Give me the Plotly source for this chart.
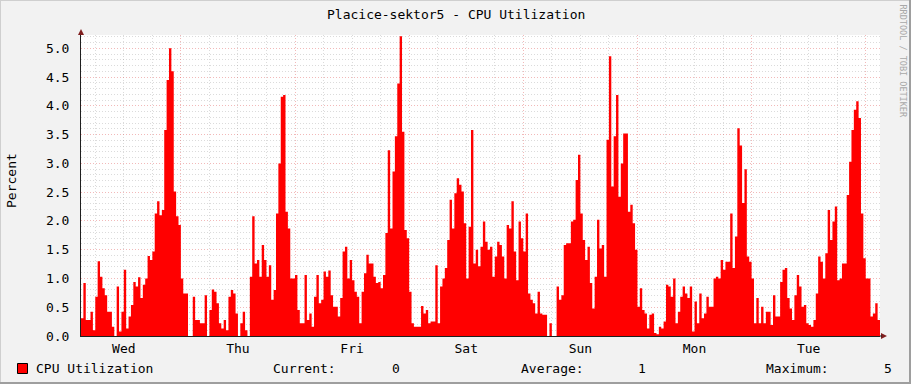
import plotly.graph_objects as go
import pandas as pd

# ---------------- data ----------------
TITLE = "Placice-sektor5 - CPU Utilization"
Y_LABEL = "Percent"
SERIES_NAME = "CPU Utilization"
WATERMARK = "RRDTOOL / TOBI OETIKER"
START = "2024-01-03 03:00"      # a Wednesday
STEP = "30min"
Y_MAX = 5.231

cpu = [
    0.31, 0.92, 0.28, 0.28, 0.42, 0.10, 0.68, 1.30, 1.03, 0.83,
    0.71, 0.42, 0.42, 0.16, 0.00, 0.86, 0.08, 0.42, 1.15, 0.13,
    0.34, 0.54, 0.94, 0.86, 1.02, 0.66, 0.89, 1.00, 1.39, 1.32,
    1.47, 2.13, 2.34, 2.10, 2.19, 3.58, 4.45, 5.00, 4.60, 2.51,
    2.08, 1.93, 1.00, 0.74, 0.74, 0.00, 0.00, 0.68, 0.28, 0.28,
    0.22, 0.22, 0.71, 0.00, 0.45, 0.81, 0.77, 0.57, 0.22, 0.13,
    0.28, 0.10, 0.68, 0.80, 0.74, 0.39, 0.00, 0.22, 0.42, 0.10,
    0.00, 1.03, 2.08, 1.26, 1.32, 1.03, 1.58, 1.32, 1.03, 1.23,
    0.63, 0.80, 2.13, 3.00, 4.16, 4.19, 2.16, 1.87, 1.00, 1.00,
    1.06, 0.45, 0.22, 0.22, 1.06, 0.28, 0.39, 0.16, 0.68, 1.06,
    0.57, 0.63, 1.12, 1.03, 1.14, 0.71, 0.51, 0.51, 0.34, 0.66,
    1.47, 1.55, 1.00, 1.32, 0.97, 0.77, 0.68, 0.22, 0.77, 1.09,
    1.41, 1.26, 1.26, 1.03, 0.92, 0.94,
    0.83, 1.06, 1.79, 3.23,
    1.87, 2.86, 3.47, 4.39, 5.21, 3.55, 1.84, 1.70, 0.77, 0.22,
    0.16, 0.16, 0.16, 0.52, 0.39, 0.45, 0.22, 0.25, 0.25, 1.23,
    0.22, 0.86, 1.00, 1.18, 1.67, 2.37, 1.87, 2.48, 2.74, 2.63,
    2.51, 1.96, 1.00, 1.90, 3.58, 1.26, 1.50, 1.21, 1.55, 1.99,
    1.64, 1.50, 1.55, 1.03, 1.38, 1.64, 1.58, 1.38, 1.00, 1.93,
    1.87, 2.34, 1.47, 0.97, 1.99, 1.70, 1.47, 2.13, 0.74, 0.63,
    0.57, 0.39, 0.77, 0.39, 0.37, 0.37, 0.00, 0.22, 0.00, 0.00,
    0.86, 0.63, 0.71, 1.58, 1.61, 1.61, 1.99, 2.02, 2.71, 3.15,
    2.13, 1.67, 1.32, 1.55, 0.92, 0.48, 1.03, 2.02, 1.52, 1.58,
    1.03, 3.41, 4.86, 2.60, 3.47, 4.19, 2.42, 3.00, 3.52, 3.52,
    2.16, 2.28, 1.96, 1.50, 0.51, 0.83, 0.45, 0.39, 0.13, 0.37,
    0.39, 0.05, 0.03, 0.16, 0.13, 0.25, 0.89, 0.86,
    0.68, 1.00,
    0.22, 0.42, 0.68, 0.86, 0.74, 0.66, 0.86, 0.08, 0.60, 0.22,
    0.74, 0.31, 0.39, 0.68, 0.51, 0.51, 1.00, 1.03, 1.00, 1.32,
    1.15, 1.29, 1.29, 2.13, 1.18, 1.73, 3.61, 3.31, 2.31, 2.90,
    1.38, 1.29, 1.00, 0.22, 0.66, 0.22, 0.51, 0.22, 0.42, 0.42,
    0.19, 0.71, 0.34, 0.34, 0.94, 1.15, 1.18, 0.66, 0.48, 0.28,
    0.71, 1.06, 0.86, 0.51, 0.54, 0.22, 0.19, 0.16, 0.28, 0.74,
    1.38, 1.29, 1.00, 1.44, 2.19, 1.67, 1.99, 2.25, 0.97, 1.00,
    1.26, 1.26, 2.45, 3.03, 3.58, 3.93, 4.08, 3.79, 2.13, 1.35,
    1.00, 1.00, 0.34, 0.39, 0.57, 0.28,
]

# ---------------- layout constants ----------------
W, H = 911, 384
L, R, T, B = 81, 31, 35, 48
PW, PH = W - L - R, H - T - B
FONT = "DejaVu Sans Mono"
RED = "#FF0000"
ARROW = "#801F1F"
AXIS = "#1F1F1F"
MGRID = "rgba(222,79,79,0.40)"
GRID = "rgba(143,143,143,0.32)"


def px(xp):
    return (xp - L) / PW


def py(yp):
    return (H - B - yp) / PH


times = pd.date_range(START, periods=len(cpu), freq=STEP)
end = times[-1] + pd.Timedelta(STEP)
xs = list(times) + [end]
ys = cpu + [cpu[-1]]

fig = go.Figure()
fig.add_trace(go.Scatter(
    x=xs, y=ys, mode="lines",
    line=dict(width=0, shape="hv", color=RED),
    fill="tozeroy", fillcolor=RED,
    hoverinfo="skip", showlegend=False,
))

fig.update_layout(
    width=W, height=H, autosize=False,
    margin=dict(l=L, r=R, t=T, b=B, pad=0),
    paper_bgcolor="#F2F2F2", plot_bgcolor="#FFFFFF",
    font=dict(family=FONT, size=13, color="#000000"),
    showlegend=False,
)

fig.update_xaxes(
    type="date", range=[times[0], end],
    tick0="2024-01-03", dtick=86400000, tickformat="%a",
    ticklabelmode="period",
    showgrid=True, gridcolor=MGRID, griddash="1px,2px", gridwidth=1,
    minor=dict(dtick=6 * 3600000, showgrid=True, gridcolor=GRID,
               griddash="1px,2px", gridwidth=1),
    showline=True, linecolor=AXIS, linewidth=1, zeroline=False,
    ticks="", tickfont=dict(family=FONT, size=13, color="#000"),
    fixedrange=True,
)
fig.update_yaxes(
    range=[0, Y_MAX], tick0=0, dtick=0.5, tickformat=".1f",
    showgrid=True, gridcolor=MGRID, griddash="1px,2px", gridwidth=1,
    minor=dict(dtick=0.1, showgrid=True, gridcolor=GRID,
               griddash="1px,2px", gridwidth=1),
    showline=True, linecolor=AXIS, linewidth=1, zeroline=False,
    ticks="", ticklabelstandoff=8,
    tickfont=dict(family=FONT, size=13, color="#000"),
    fixedrange=True,
)

shapes = []
# frame shading
shapes.append(dict(type="rect", xref="paper", yref="paper", x0=px(0), x1=px(W), y0=py(0), y1=py(1),
                   fillcolor="#CFCFCF", line=dict(width=0), layer="below"))
shapes.append(dict(type="rect", xref="paper", yref="paper", x0=px(0), x1=px(1), y0=py(0), y1=py(H),
                   fillcolor="#CFCFCF", line=dict(width=0), layer="below"))
shapes.append(dict(type="rect", xref="paper", yref="paper", x0=px(0), x1=px(W), y0=py(H - 2), y1=py(H),
                   fillcolor="#9E9E9E", line=dict(width=0), layer="below"))
shapes.append(dict(type="rect", xref="paper", yref="paper", x0=px(W - 2), x1=px(W), y0=py(0), y1=py(H),
                   fillcolor="#9E9E9E", line=dict(width=0), layer="below"))
# axis arrows
shapes.append(dict(type="path", xref="paper", yref="paper",
                   path=f"M {px(78)},{py(35)} L {px(84)},{py(35)} L {px(81)},{py(29)} Z",
                   fillcolor=ARROW, line=dict(width=0)))
shapes.append(dict(type="path", xref="paper", yref="paper",
                   path=f"M {px(881)},{py(333)} L {px(881)},{py(339)} L {px(887)},{py(336)} Z",
                   fillcolor=ARROW, line=dict(width=0)))
shapes.append(dict(type="line", xref="paper", yref="paper", x0=px(880), x1=px(882), y0=py(336), y1=py(336),
                   line=dict(color=AXIS, width=1)))
# legend swatch
shapes.append(dict(type="rect", xref="paper", yref="paper", x0=px(17.5), x1=px(27.5), y0=py(363.5), y1=py(373.5),
                   fillcolor=RED, line=dict(color="#000000", width=1)))
fig.update_layout(shapes=shapes)

cur = f"{cpu[-1]:.0f}"
avg = f"{sum(cpu) / len(cpu):.0f}"
mx = f"{max(cpu):.0f}"

ann = []
def txt(text, xp, yp, xanchor="left", size=13, color="#000000", angle=0):
    ann.append(dict(text=text, x=px(xp), y=py(yp), xref="paper", yref="paper",
                    xanchor=xanchor, yanchor="middle", showarrow=False, textangle=angle,
                    font=dict(family=FONT, size=size, color=color)))

txt(TITLE, 455.5, 14, xanchor="center")
txt(Y_LABEL, 11, 181, xanchor="center", angle=-90)
txt(SERIES_NAME, 34, 368)
txt("Current:", 271, 368)
txt(cur, 402, 368, xanchor="right")
txt("Average:", 519, 368)
txt(avg, 648, 368, xanchor="right")
txt("Maximum:", 764, 368)
txt(mx, 894, 368, xanchor="right")
txt(WATERMARK, 902.5, 61, xanchor="center", size=8.5, color="#A8A8A8", angle=90)
fig.update_layout(annotations=ann)

fig.write_html("out.html")
